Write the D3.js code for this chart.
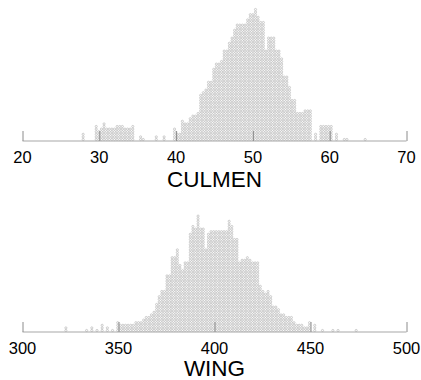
<!DOCTYPE html>
<html>
<head>
<meta charset="utf-8">
<script src="https://cdn.jsdelivr.net/npm/d3@7"></script>
<style>
  html, body { margin: 0; padding: 0; background: #fff; }
  svg { display: block; }
  text { font-family: "Liberation Sans", Arial, Helvetica, sans-serif; fill: #000; }
</style>
</head>
<body>
<svg id="chart" width="421" height="380"></svg>
<script>
// ---------------- DATA ----------------
// CULMEN: stacked-dot columns (bin start, bin width, dot count per bin)
const culmenBinStart = 27.9;
const culmenBinWidth = 0.34;
const culmenCounts = [
  3, 0, 0, 0, 0, 6, 4, 5, 7, 5, 5, 5, 5, 6, 6, 6, 5, 5, 5, 6,
  0, 0, 2, 1, 0, 0, 0, 0, 2, 0, 0, 2, 0, 0, 0, 5, 3, 3, 8, 7,
  7, 9, 10, 10, 11, 18, 19, 20, 23, 23, 28, 30, 30, 31, 35, 35, 38, 40, 43, 45,
  45, 45, 45, 47, 49, 49, 51, 48, 46, 46, 35, 40, 40, 40, 35, 35, 32, 25, 25, 21,
  16, 16, 11, 11, 11, 12, 12, 12, 0, 3, 0, 6, 6, 6, 6, 6, 0, 3, 0, 0,
  1, 1, 0, 0, 0, 0, 0, 0, 1
];
const culmenTicks = [20, 30, 40, 50, 60, 70];
const culmenTitle = "CULMEN";

// WING
const wingBinStart = 322.6;
const wingBinWidth = 1.35;
const wingCounts = [
  2, 0, 0, 0, 0, 0, 0, 0, 1, 0, 2, 0, 1, 0, 3, 0, 2, 0, 1, 0,
  4, 3, 3, 3, 3, 3, 3, 4, 4, 4, 5, 6, 6, 7, 8, 11, 14, 16, 16, 22,
  22, 29, 29, 32, 26, 24, 27, 27, 38, 41, 40, 45, 40, 40, 32, 38, 39, 39, 39, 39,
  39, 39, 39, 43, 41, 36, 36, 27, 28, 28, 29, 28, 27, 27, 27, 18, 16, 15, 16, 14,
  10, 10, 9, 7, 7, 6, 6, 6, 4, 3, 3, 3, 2, 2, 4, 0, 3, 0, 0, 1,
  0, 0, 0, 1, 0, 1, 0, 0, 0, 0, 0, 0, 1
];
const wingTicks = [300, 350, 400, 450, 500];
const wingTitle = "WING";

// ---------------- DRAW ----------------
const svg = d3.select("#chart");
const dotStep = 2.6;   // vertical pitch of stacked dots (px)
const dotR = 1.1;

function panel(opts) {
  const { binStart, binWidth, counts, ticks, title, axisY, labelY, titleY } = opts;
  const g = svg.append("g");
  const x = d3.scaleLinear()
    .domain([ticks[0], ticks[ticks.length - 1]])
    .range([22.5, 406.5]);
  const maxC = d3.max(counts);
  const y = d3.scaleLinear().domain([0, maxC]).range([axisY - 0.2, axisY - 0.2 - maxC * dotStep]);

  // dots
  const dots = [];
  counts.forEach((c, k) => {
    const v = binStart + k * binWidth;
    for (let i = 0; i < c; i++) dots.push({ v, i });
  });
  g.append("g").selectAll("circle").data(dots).join("circle")
    .attr("cx", d => x(d.v))
    .attr("cy", d => y(d.i + 0.5))
    .attr("r", dotR)
    .attr("fill", "#fbfbfb")
    .attr("stroke", "#a4a4a4")
    .attr("stroke-width", 0.5);

  // axis
  const axis = d3.axisTop(x).tickValues(ticks).tickSize(10).tickFormat("");
  const ag = g.append("g").attr("transform", `translate(0,${axisY})`).call(axis);
  ag.select(".domain").attr("stroke", "#a8a8a8").attr("stroke-width", 1.2)
    .attr("d", `M${x.range()[0]},0H${x.range()[1]}`);
  ag.selectAll(".tick line").attr("stroke", "#8c8c8c").attr("stroke-width", 1);

  // tick labels
  g.append("g").selectAll("text").data(ticks).join("text")
    .attr("x", d => x(d))
    .attr("y", labelY)
    .attr("text-anchor", "middle")
    .style("font-size", "16.5px")
    .text(d => d);

  // title
  g.append("text")
    .attr("x", (x.range()[0] + x.range()[1]) / 2)
    .attr("y", titleY)
    .attr("text-anchor", "middle")
    .style("font-size", "22.5px")
    .text(title);
}

panel({ binStart: culmenBinStart, binWidth: culmenBinWidth, counts: culmenCounts,
        ticks: culmenTicks, title: culmenTitle, axisY: 141, labelY: 163, titleY: 187 });
panel({ binStart: wingBinStart, binWidth: wingBinWidth, counts: wingCounts,
        ticks: wingTicks, title: wingTitle, axisY: 332, labelY: 353.5, titleY: 376 });
</script>
</body>
</html>
